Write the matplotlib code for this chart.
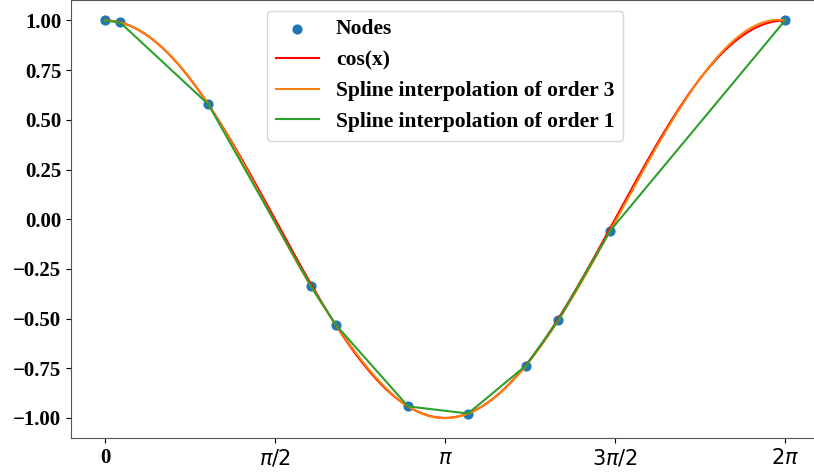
import numpy as np
import matplotlib
matplotlib.use("Agg")
import matplotlib.pyplot as plt

# nodes
node_x = [0.0, 0.14, 0.955, 1.90, 2.135, 2.80, 3.355, 3.89, 4.19, 4.667, 2 * np.pi]
node_y = [1.00, 0.99, 0.578, -0.335, -0.533, -0.942, -0.978, -0.737, -0.508, -0.059, 1.00]

tick_pos = [0, np.pi / 2, np.pi, 3 * np.pi / 2, 2 * np.pi]
tick_labels = ['0', r'$\pi/2$', r'$\pi$', r'$3\pi/2$', r'$2\pi$']
y_ticks = [-1.0, -0.75, -0.5, -0.25, 0.0, 0.25, 0.5, 0.75, 1.0]


def cubic_not_a_knot(x, y, xs):
    # cubic spline with not-a-knot ends (same as scipy's default k=3 spline)
    x = np.asarray(x, float)
    y = np.asarray(y, float)
    n = len(x) - 1
    h = np.diff(x)
    A = np.zeros((n + 1, n + 1))
    b = np.zeros(n + 1)
    A[0, 0], A[0, 1], A[0, 2] = h[1], -(h[0] + h[1]), h[0]
    A[n, n - 2], A[n, n - 1], A[n, n] = h[n - 1], -(h[n - 2] + h[n - 1]), h[n - 2]
    for i in range(1, n):
        A[i, i - 1] = h[i - 1]
        A[i, i] = 2 * (h[i - 1] + h[i])
        A[i, i + 1] = h[i]
        b[i] = 6 * ((y[i + 1] - y[i]) / h[i] - (y[i] - y[i - 1]) / h[i - 1])
    M = np.linalg.solve(A, b)
    k = np.clip(np.searchsorted(x, xs) - 1, 0, n - 1)
    t0 = xs - x[k]
    t1 = x[k + 1] - xs
    hk = h[k]
    return (M[k] * t1 ** 3 / (6 * hk) + M[k + 1] * t0 ** 3 / (6 * hk)
            + (y[k] / hk - M[k] * hk / 6) * t1 + (y[k + 1] / hk - M[k + 1] * hk / 6) * t0)


xs = np.linspace(0, 2 * np.pi, 600)

serif_bold = {'family': 'Liberation Serif', 'weight': 'bold', 'size': 15}

fig = plt.figure(figsize=(8.14, 4.75), dpi=100)
ax = fig.add_axes([71 / 814, 37 / 475, 748 / 814, 438 / 475])

ax.scatter(node_x, node_y, color='C0', s=40, label='Nodes')
ax.plot(xs, np.cos(xs), color='red', label='cos(x)')
ax.plot(xs, cubic_not_a_knot(node_x, node_y, xs), color='C1', label='Spline interpolation of order 3')
ax.plot(xs, np.interp(xs, node_x, node_y), color='C2', label='Spline interpolation of order 1')

ax.set_xticks(tick_pos)
ax.set_xticklabels(tick_labels, fontsize=15)
ax.get_xticklabels()[0].set_fontproperties(serif_bold)
ax.set_yticks(y_ticks)
for lab in ax.get_yticklabels():
    lab.set_fontproperties(serif_bold)

for s in ax.spines.values():
    s.set_color('#555555')

ax.legend(loc='upper center', prop=dict(serif_bold, size=15.5))

fig.savefig('out.png', dpi=100)
